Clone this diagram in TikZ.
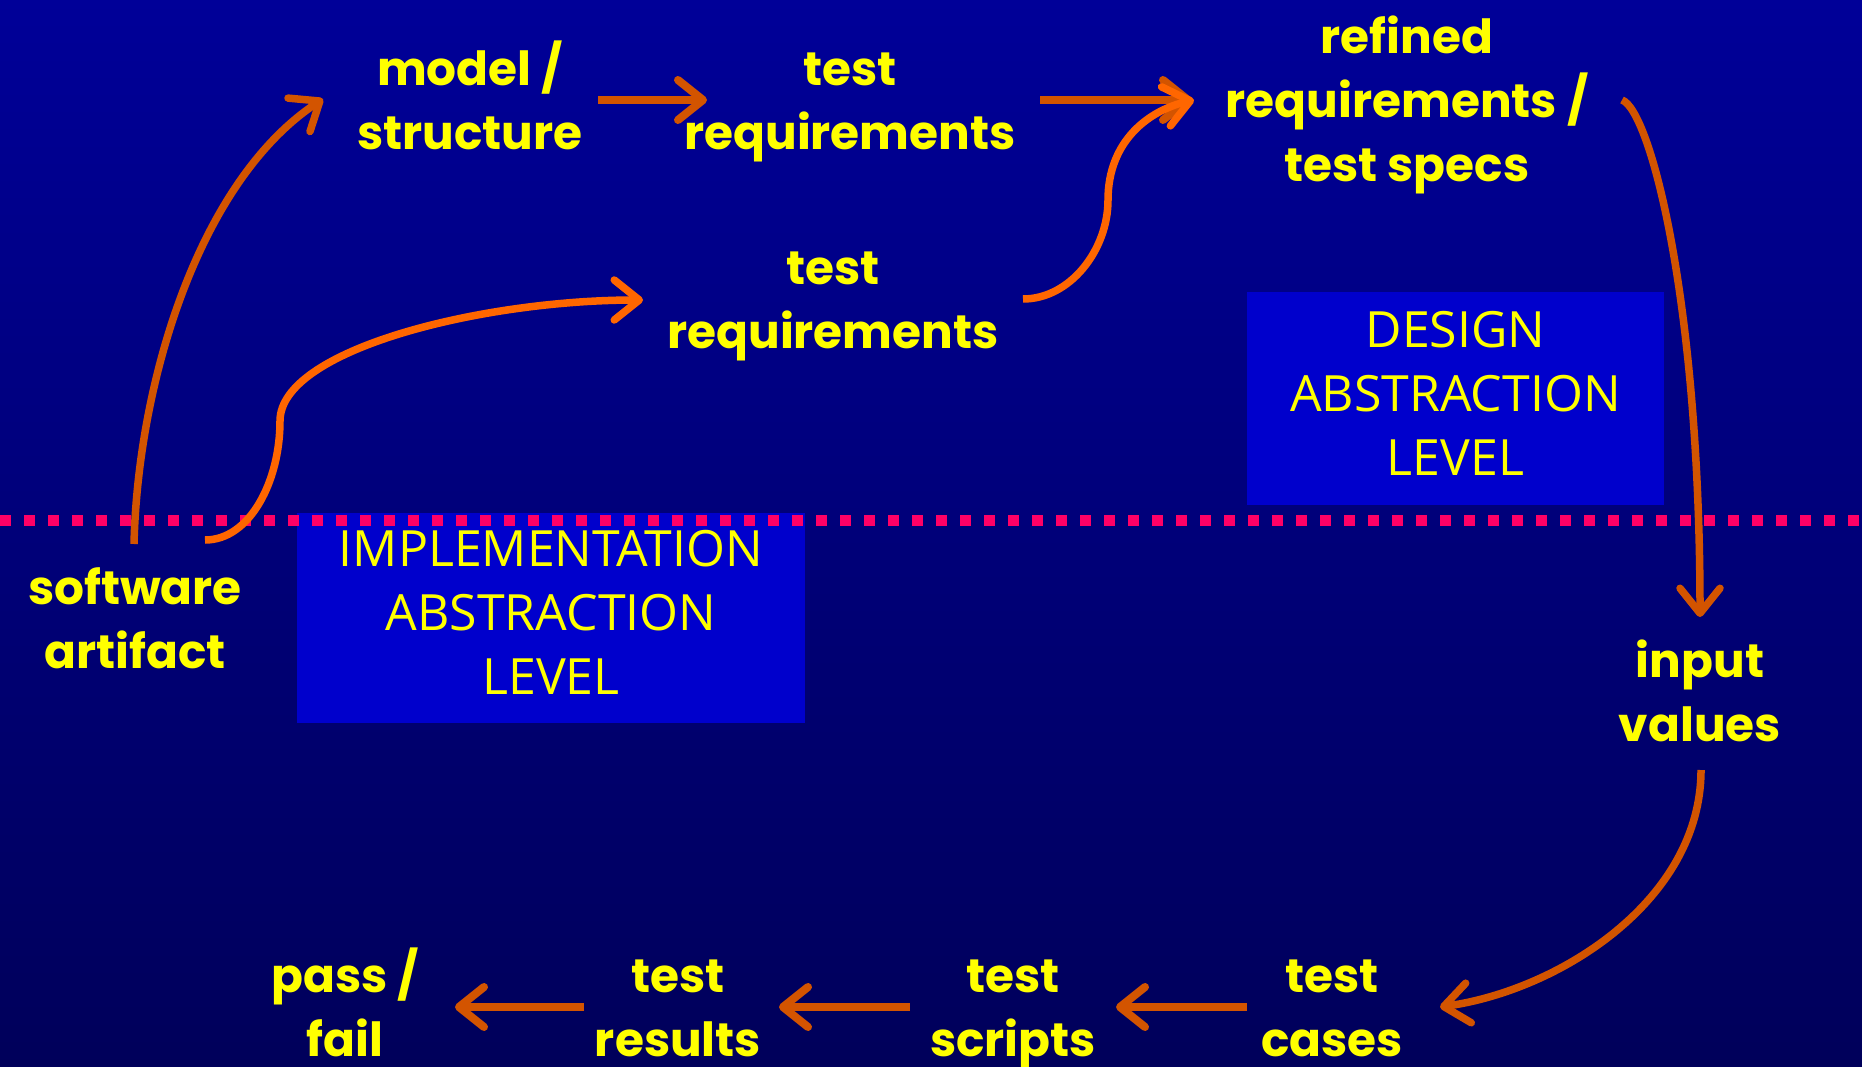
\documentclass[tikz,border=0pt]{standalone}
\usepackage{fontspec}
\usetikzlibrary{arrows.meta,calc}
\newfontfamily\lblfont{Poppins}
\newfontfamily\boxfont{Open Sans}
\definecolor{bgtop}{HTML}{000098}
\definecolor{bgbot}{HTML}{00005A}
\definecolor{lblyellow}{HTML}{FFFF00}
\definecolor{darkorange}{HTML}{D35400}
\definecolor{brightorange}{HTML}{FF6600}
\definecolor{levelblue}{HTML}{0000CC}
\definecolor{borderpink}{HTML}{FF0066}
\begin{document}
\begin{tikzpicture}[x=1pt,y=-1pt,
  lbl/.style={text=lblyellow, align=center, inner sep=0pt,
    font=\lblfont\bfseries\fontsize{47}{64}\selectfont},
  levelbox/.style={fill=levelblue, text=lblyellow, align=center, inner sep=0pt,
    font=\boxfont\fontsize{50}{64}\selectfont},
  flow/.style={line width=8pt, -{Straight Barb[length=25pt,width=40pt,round]}},
  dk/.style={flow, draw=darkorange},
  br/.style={flow, draw=brightorange},
  curve/.style={line width=7.5pt}]

% canvas and background gradient
\path[use as bounding box] (0,0) rectangle (1862,1067);
\shade[top color=bgtop, bottom color=bgbot] (0,0) rectangle (1862,1067);

% abstraction level panels
\node[levelbox, minimum width=417, minimum height=213] (dl) at (1455.5,398.5)
  {\strut DESIGN\\\strut ABSTRACTION\\\strut LEVEL};
\node[levelbox, minimum width=508, minimum height=210] (il) at (551,618)
  {\strut IMPLEMENTATION\\\strut ABSTRACTION\\\strut LEVEL};

% boundary between the two levels
\draw[borderpink, line width=11pt, dash pattern=on 11pt off 13pt] (0,520) -- (1862,520);

% artefacts
\node[lbl] (ms) at (470,105)  {\strut model /\\\strut structure};
\node[lbl] (tt) at (850,105)  {\strut test\\\strut requirements};
\node[lbl] (rf) at (1407,105) {\strut refined\\\strut requirements /\\\strut test specs};
\node[lbl] (tm) at (833,304)  {\strut test\\\strut requirements};
\node[lbl] (sw) at (135,624)  {\strut software\\\strut artifact};
\node[lbl] (iv) at (1700,697) {\strut input\\\strut values};
\node[lbl] (tc) at (1332,1012) {\strut test\\\strut cases};
\node[lbl] (ts) at (1013,1012) {\strut test\\\strut scripts};
\node[lbl] (tr) at (678,1012)  {\strut test\\\strut results};
\node[lbl] (pf) at (345,1012)  {\strut pass /\\\strut fail};

% flows
\draw[dk, curve] ($(sw.center)+(-1,-80)$) .. controls +(4,-164) and +(-123,81) .. ($(ms.center)+(-147,-6)$);
\draw[br, curve] ($(sw.center)+(70,-84)$) .. controls +(45,0) and +(0,60) .. ++(75,-119)
  .. controls +(0,-71) and +(-163,0) .. ($(tm.center)+(-190,-4)$);
\draw[dk] ($(ms.center)+(128,-5)$) -- ($(tt.center)+(-143,-5)$);
\draw[dk] ($(tt.center)+(190,-5)$) -- ($(rf.center)+(-215,-5)$);
\draw[br, curve] ($(tm.center)+(190,-5)$) .. controls +(47,0) and +(0,50) .. ++(85,-99)
  .. controls +(0,-60) and +(-44,10) .. ($(rf.center)+(-213,-5)$);
\draw[dk, curve] ($(rf.center)+(215,-5)$) .. controls +(28,10) and +(0,-317) .. ($(iv.center)+(0,-80)$);
\draw[dk, curve] ($(iv.center)+(1,73)$) .. controls +(0,130) and +(120,-17) .. ($(tc.center)+(108,-5)$);
\draw[dk] ($(tc.center)+(-85,-5)$) -- ($(ts.center)+(103,-5)$);
\draw[dk] ($(ts.center)+(-103,-5)$) -- ($(tr.center)+(101,-5)$);
\draw[dk] ($(tr.center)+(-94,-5)$) -- ($(pf.center)+(110,-5)$);
\end{tikzpicture}
\end{document}
